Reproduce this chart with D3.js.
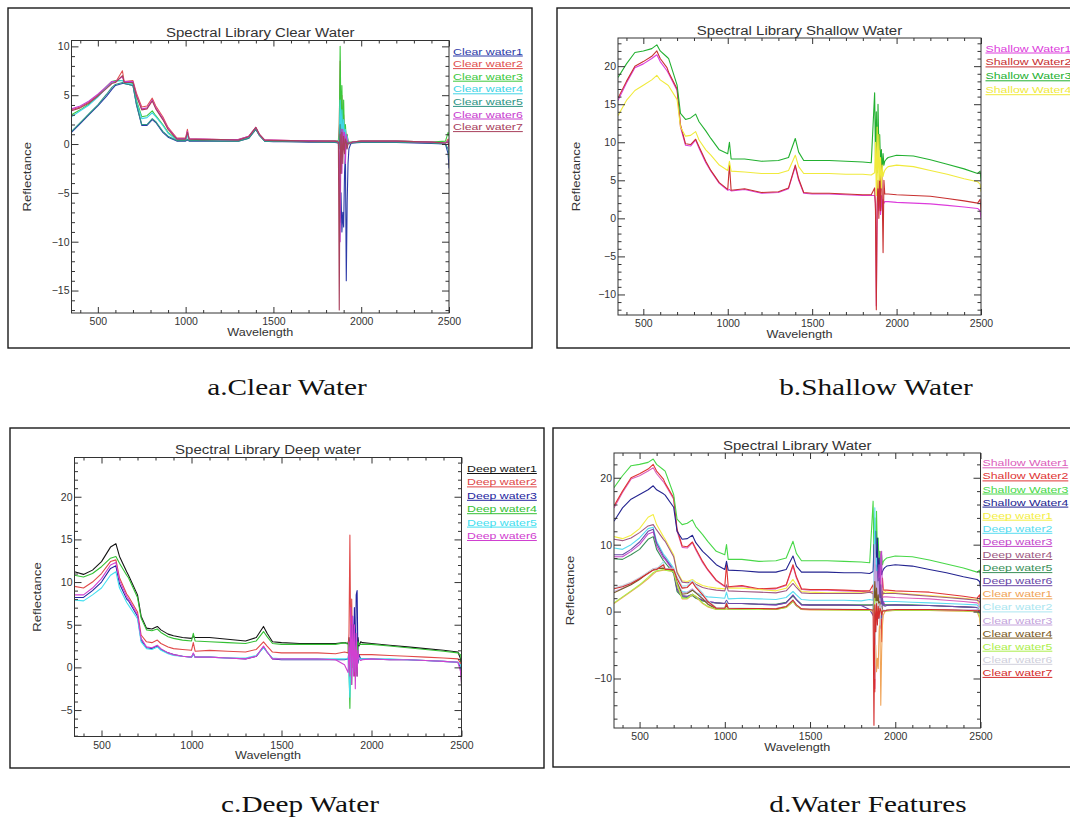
<!DOCTYPE html>
<html>
<head>
<meta charset="utf-8">
<script src="https://cdn.jsdelivr.net/npm/d3@7"></script>
<style>
  body { margin: 0; background: #fff; }
  svg { display: block; }
</style>
</head>
<body>
<svg id="fig" width="1070" height="825"></svg>
<script>
// wavelength grid (nm) shared by every spectrum
const wavelength = [350, 400, 450, 500, 550, 580, 600, 640, 650, 700,
  720, 750, 780, 810, 830, 870, 900, 950, 1000, 1010,
  1020, 1100, 1200, 1300, 1360, 1400, 1420, 1450, 1500, 1600,
  1700, 1800, 1850, 1870, 1875, 1880, 1885, 1890, 1895, 1900,
  1905, 1910, 1915, 1920, 1925, 1930, 1940, 1950, 2000, 2100,
  2200, 2300, 2400, 2480, 2495, 2500];

// clear water spectra
const clear1 = [1.2,2.1,3.0,3.9,4.9,5.6,6.0,6.2,6.2,6.0, 4.0,1.9,1.9,2.5,2.2, 1.2,0.7,0.3,0.3,0.4, 0.3,0.3,0.3,0.3,0.6, 1.5,0.9,0.3,0.25,0.25, 0.2,0.2,0.15,
  0.1,-2,-8,-5,-9,-7,-8.5,-3,-1,-14,-6,-2,-0.5,0,0.1, 0.15,0.15,0.15,0.1,0.05, 0,-1,-2.5];
const clear2 = [3.5,3.8,4.3,5.0,5.8,6.3,6.3,7.5,6.4,6.5, 5.2,3.8,3.9,4.7,3.9, 2.8,1.7,0.6,0.6,1.5, 0.5,0.5,0.45,0.45,0.8, 1.7,1.0,0.4,0.4,0.35, 0.35,0.3,0.3,
  0.3,2,8.5,1,5,0.5,3,0.5,1.5,0.2,0.8,0.3,0.1,0.1,0.2, 0.3,0.3,0.3,0.25,0.2, 0.1,0.5,0];
const clear3 = [3.0,3.5,4.1,4.9,5.9,6.4,6.5,6.5,6.4,6.2, 4.5,2.8,2.9,3.4,2.9, 2.0,1.2,0.5,0.5,1.0, 0.4,0.4,0.4,0.4,0.7, 1.6,0.9,0.35,0.35,0.3, 0.3,0.3,0.3,
  0.3,1,10,2,6,1,4.5,0.5,2,0.5,1,0.3,0.2,0.2,0.2, 0.3,0.3,0.3,0.25,0.2, 0.3,1.2,0.8];
const clear4 = [2.8,3.4,4.0,4.8,5.8,6.3,6.4,6.5,6.3,6.1, 4.3,2.6,2.7,3.2,2.8, 1.9,1.1,0.4,0.4,0.9, 0.4,0.4,0.4,0.35,0.7, 1.6,0.9,0.35,0.3,0.3, 0.3,0.25,0.25,
  0.2,0.5,4.5,1,3.5,0.5,2.5,0.5,1.5,0.3,0.8,0.2,0.1,0.1,0.2, 0.25,0.25,0.25,0.2,0.15, 0.1,0.3,-0.5];
const clear5 = [1.3,2.2,3.1,4.0,5.1,5.8,6.1,6.3,6.2,6.0, 4.1,2.0,2.0,2.6,2.3, 1.3,0.8,0.35,0.35,0.5, 0.35,0.35,0.3,0.3,0.6, 1.5,0.9,0.3,0.3,0.25, 0.25,0.2,0.2,
  0.1,-0.5,2,-1,1.5,-0.5,1,0,0.5,-0.5,0.3,0,0,0.1,0.1, 0.2,0.2,0.2,0.15,0.1, 0,-0.5,-1.5];
const clear6 = [3.6,3.9,4.4,5.1,5.9,6.4,6.4,6.9,6.4,6.4, 5.0,3.6,3.7,4.5,3.7, 2.6,1.6,0.55,0.55,1.3, 0.5,0.5,0.45,0.45,0.8, 1.7,1.0,0.4,0.4,0.35, 0.35,0.3,0.3,
  0.2,-1,-10,1.5,-3,1.5,0.5,1.2,-2,1,0.3,0.2,0.1,0.1,0.2, 0.3,0.3,0.3,0.25,0.2, 0.1,0.3,-0.5];
const clear7 = [3.4,3.7,4.2,4.9,5.7,6.2,6.3,7.0,6.3,6.3, 4.9,3.5,3.6,4.4,3.6, 2.5,1.5,0.5,0.5,1.2, 0.5,0.45,0.45,0.4,0.75, 1.7,1.0,0.4,0.35,0.35, 0.3,0.3,0.3,
  0.2,-17,1,-3,1.2,-2,0.8,-1,0.5,0.2,-0.5,0.1,0.1,0.1,0.2, 0.3,0.3,0.3,0.25,0.2, 0.1,0.2,-0.3];

// shallow water spectra
const shallow1 = [15.5,17.8,19.8,20.3,21.0,21.5,20.6,19.4,19.0,16.8, 12.0,9.6,9.5,10.3,9.2, 7.3,6.2,4.6,3.7,3.8, 3.6,3.8,3.3,3.4,3.9, 6.8,5.0,3.3,3.2,3.2, 3.1,3.0,3.0,
  3.0,2.0,-11.5,1,3.5,1,2.5,0.5,3,1,2.5,2,2.2,2.2,2.2, 2.1,2.0,1.9,1.7,1.5, 1.3,1,0];
const shallow2 = [15.8,18.0,20.0,20.6,21.3,22.0,21.0,19.8,19.2,17.0, 12.3,9.8,9.7,10.4,9.4, 7.5,6.3,4.7,3.8,7.0, 3.7,3.9,3.4,3.5,4.0, 7.0,5.2,3.4,3.3,3.3, 3.2,3.1,3.1,
  4,1,-12,2,5,0,6,1,9,3,-4.5,5,3.2,3.2,3.2, 3.1,3.0,2.9,2.6,2.3, 2.0,2.5,1.0];
const shallow3 = [18.5,20.3,21.8,22.0,22.3,22.8,22.0,21.2,21.0,17.5, 13.8,13.0,13.2,13.7,12.7, 11.5,10.5,9.0,8.5,10.0, 7.8,7.8,7.5,7.6,8.0, 10.5,8.7,7.6,7.6,7.6, 7.5,7.4,7.3,
  16.5,8,14,6,15,9,11,7,9,6,8.5,7,7.5,7.8,8, 8.3,8.2,7.7,7.1,6.5, 5.9,6.2,5.0];
const shallow4 = [13.5,15.5,16.8,17.5,18.2,18.8,18.2,17.6,17.4,15.6, 12.0,10.8,10.9,11.4,10.3, 9.0,8.3,7.0,6.3,7.5, 6.2,6.1,5.9,5.9,6.3, 8.3,6.8,5.9,5.9,5.9, 5.8,5.8,5.7,
  6,10,3,12,4,11,5,8,4,7,5.5,6,6.3,6.6,6.8, 7.0,6.8,6.3,5.8,5.2, 4.8,4.5,3.5];

// deep water spectra
const deep1 = [11.2,10.9,11.4,12.4,14.1,14.5,13.0,11.2,10.8,8.5, 6.0,4.6,4.5,4.8,4.4, 3.9,3.7,3.5,3.4,3.6, 3.5,3.5,3.3,3.1,3.5, 4.8,4.0,3.0,2.9,2.8, 2.8,2.8,2.9,
  2.8,3.5,1.5,3.0,0.5,2.5,1,3,0,2.5,-1,3.5,2.5,3.0,2.9, 2.8,2.6,2.4,2.2,2.0, 1.8,1.0,-2];
const deep2 = [9.5,9.3,10.0,11.0,12.4,12.6,10.5,8.6,8.3,6.5, 3.8,3.0,2.9,3.2,2.8, 2.4,2.2,2.1,2.0,2.9, 1.9,2.0,1.9,1.8,2.1, 3.0,2.5,1.8,1.7,1.7, 1.7,1.6,1.8,
  1.7,4,15.5,1,8,0,5,-1,3,0.5,2,1,1.5,1.5,1.5, 1.5,1.4,1.3,1.2,1.1, 1.0,0.5,-0.5];
const deep3 = [8.2,8.2,9.0,10.0,11.6,11.9,9.8,8.0,7.8,6.0, 3.2,2.3,2.2,2.5,2.1, 1.7,1.5,1.3,1.2,1.6, 1.2,1.2,1.1,1.0,1.3, 2.4,1.8,1.0,0.9,0.9, 0.9,0.9,0.9,
  1.0,2,-1,5,1,6,0,7,-1,8.5,9,0.5,1.5,1.0,1.0, 1.0,0.9,0.9,0.8,0.7, 0.6,0,-1];
const deep4 = [10.8,10.6,11.0,11.8,12.8,13.0,12.2,10.8,10.5,8.2, 5.8,4.4,4.3,4.5,4.1, 3.6,3.4,3.2,3.1,4.0, 3.1,3.0,2.9,2.8,3.1, 4.2,3.6,2.8,2.7,2.7, 2.7,2.7,2.9,
  2.7,0,-4.8,3,-2,4,0,3,1,2.5,1.5,3,2.7,2.7,2.7, 2.7,2.5,2.3,2.1,1.9, 1.7,1.5,0.5];
const deep5 = [7.9,7.8,8.5,9.3,10.8,11.2,9.3,7.6,7.3,5.7, 3.0,2.2,2.1,2.4,2.0, 1.6,1.4,1.3,1.2,1.5, 1.2,1.2,1.1,1.1,1.4, 2.3,1.8,1.1,1.0,1.0, 1.0,1.0,1.0,
  1,-1,-3.5,2,-1,3,0.5,2,-0.5,1.5,0.5,1,1,1,1, 1.0,1.0,0.9,0.8,0.7, 0.6,0.3,-0.3];
const deep6 = [8.5,8.5,9.3,10.4,12.0,12.3,10.2,8.3,8.0,6.2, 3.4,2.4,2.3,2.6,2.2, 1.7,1.5,1.3,1.2,1.7, 1.2,1.2,1.1,1.0,1.3, 2.5,1.8,1.0,1.0,1.0, 1.0,0.9,0.3,
  -0.6,3,-1,7,-2,6,-1,5,-2.5,4,-1,2,1,0.8,0.9, 1.0,0.9,0.9,0.8,0.7, 0.6,-0.5,-1.8];

const clearNames = ["Clear water1", "Clear water2", "Clear water3", "Clear water4", "Clear water5", "Clear water6", "Clear water7"];
const shallowNames = ["Shallow Water1", "Shallow Water2", "Shallow Water3", "Shallow Water4"];
const deepNames = ["Deep water1", "Deep water2", "Deep water3", "Deep water4", "Deep water5", "Deep water6"];

const clearColors = ["#2c3aa8", "#e05050", "#3cc83c", "#40d4e6", "#2e9484", "#c83cd0", "#a8405c"];
const shallowColors = ["#dc3cdc", "#c83030", "#22b030", "#f0ea3c"];
const deepColors = ["#141414", "#e04848", "#2424a0", "#34c034", "#44e0f0", "#d040d0"];
const waterColors = ["#dc60bc", "#e03434", "#48d848", "#242490",
  "#f4ee44", "#58dcf0", "#c448cc", "#a05a84", "#3a9058", "#6a48a8",
  "#f0a458", "#ace6f0", "#c4a4dc", "#7a5a24", "#acee4c", "#d0d0dc", "#d42c2c"];

const xMajorTicks = [500, 1000, 1500, 2000, 2500];
const clearYTicks = [-15, -10, -5, 0, 5, 10];
const shallowYTicks = [-10, -5, 0, 5, 10, 15, 20];
const deepYTicks = [-5, 0, 5, 10, 15, 20];
const waterYTicks = [-10, 0, 10, 20];

const xDomain = [350, 2500];

const panels = [
  { title: "Spectral Library Clear Water", caption: "a.Clear Water",
    names: clearNames, series: [clear1, clear2, clear3, clear4, clear5, clear6, clear7], colors: clearColors,
    yDomain: [-17.3, 10.6], yTicks: clearYTicks, yMinor: 1,
    frame: [8, 8, 532, 348], plot: [71.5, 40.5, 449, 313],
    legend: [453, 51.5, 12.6], yLabelX: 27, cap: [287, 395] },
  { title: "Spectral Library Shallow Water", caption: "b.Shallow Water",
    names: shallowNames, series: [shallow1, shallow2, shallow3, shallow4], colors: shallowColors,
    yDomain: [-12.7, 23.7], yTicks: shallowYTicks, yMinor: 1,
    frame: [557, 8, 1090, 348], plot: [618, 38, 981, 315],
    legend: [985.5, 48.5, 13.9], yLabelX: 575.5, cap: [876, 395] },
  { title: "Spectral Library Deep water", caption: "c.Deep Water",
    names: deepNames, series: [deep1, deep2, deep3, deep4, deep5, deep6], colors: deepColors,
    yDomain: [-8.1, 24.6], yTicks: deepYTicks, yMinor: 1,
    frame: [10, 428, 544, 768], plot: [74.5, 457.5, 461.5, 736.5],
    legend: [467, 469, 13.4], yLabelX: 37, cap: [300, 812] },
  { title: "Spectral Library Water", caption: "d.Water Features",
    names: shallowNames.concat(deepNames, clearNames),
    series: [shallow1, shallow2, shallow3, shallow4, deep1, deep2, deep3, deep4, deep5, deep6,
             clear1, clear2, clear3, clear4, clear5, clear6, clear7],
    colors: waterColors,
    yDomain: [-17.4, 23.7], yTicks: waterYTicks, yMinor: 2,
    frame: [553, 428, 1090, 767], plot: [614, 453, 980.5, 728],
    legend: [982.5, 463.3, 13.1], yLabelX: 570, cap: [868, 812] }
];

const FONT = "'Liberation Sans', Arial, sans-serif";
const INK = "#333";
const svg = d3.select("#fig");

// text squeezed/stretched horizontally like the scanned figure
function stretchText(parent, x, y, str, size, sx, anchor, fill, rot) {
  const t = parent.append("text")
    .attr("transform", `translate(${x},${y})${rot ? " rotate(" + rot + ")" : ""} scale(${sx},1)`)
    .attr("text-anchor", anchor)
    .attr("font-family", FONT)
    .attr("font-size", size)
    .attr("fill", fill)
    .text(str);
  return t;
}

panels.forEach((p, pi) => {
  const [fx0, fy0, fx1, fy1] = p.frame;
  const [L, T, R, B] = p.plot;

  svg.append("rect")
    .attr("x", fx0).attr("y", fy0)
    .attr("width", fx1 - fx0).attr("height", fy1 - fy0)
    .attr("fill", "none").attr("stroke", "#1a1a1a").attr("stroke-width", 1.4);

  const x = d3.scaleLinear().domain(xDomain).range([L, R]);
  const y = d3.scaleLinear().domain(p.yDomain).range([B, T]);

  const g = svg.append("g");

  const cid = "clip" + pi;
  svg.append("clipPath").attr("id", cid)
    .append("rect").attr("x", L).attr("y", T).attr("width", R - L).attr("height", B - T);

  const line = d3.line()
    .x((d, i) => x(wavelength[i]))
    .y(d => y(d));

  g.append("g").attr("clip-path", `url(#${cid})`)
    .selectAll("path")
    .data(p.series)
    .join("path")
    .attr("d", line)
    .attr("fill", "none")
    .attr("stroke", (d, i) => p.colors[i])
    .attr("stroke-width", 1.1)
    .attr("stroke-linejoin", "round");

  // minor tick values
  const xMinor = d3.range(400, 2501, 100).filter(v => !xMajorTicks.includes(v));
  const yMinor = d3.range(Math.ceil(p.yDomain[0] / p.yMinor) * p.yMinor, p.yDomain[1], p.yMinor)
    .filter(v => !p.yTicks.includes(v));

  const styleAxis = sel => {
    sel.attr("font-family", FONT).attr("font-size", 10.5).attr("color", INK);
    sel.select(".domain").remove();
  };

  // bottom (labelled)
  g.append("g").attr("transform", `translate(0,${B})`)
    .call(d3.axisBottom(x).tickValues(xMajorTicks).tickSizeInner(-6).tickSizeOuter(0).tickFormat(d3.format("d")))
    .call(styleAxis)
    .call(a => a.selectAll("text").attr("y", 12).attr("dy", null));
  g.append("g").attr("transform", `translate(0,${B})`)
    .call(d3.axisBottom(x).tickValues(xMinor).tickSizeInner(-3).tickSizeOuter(0).tickFormat(""))
    .call(styleAxis);
  // top
  g.append("g").attr("transform", `translate(0,${T})`)
    .call(d3.axisTop(x).tickValues(xMajorTicks).tickSizeInner(-6).tickSizeOuter(0).tickFormat(""))
    .call(styleAxis);
  g.append("g").attr("transform", `translate(0,${T})`)
    .call(d3.axisTop(x).tickValues(xMinor).tickSizeInner(-3).tickSizeOuter(0).tickFormat(""))
    .call(styleAxis);
  // left (labelled)
  g.append("g").attr("transform", `translate(${L},0)`)
    .call(d3.axisLeft(y).tickValues(p.yTicks).tickSizeInner(-7).tickSizeOuter(0).tickPadding(2)
      .tickFormat(v => v < 0 ? "\u2212" + Math.abs(v) : String(v)))
    .call(styleAxis);
  g.append("g").attr("transform", `translate(${L},0)`)
    .call(d3.axisLeft(y).tickValues(yMinor).tickSizeInner(-3.5).tickSizeOuter(0).tickFormat(""))
    .call(styleAxis);
  // right
  g.append("g").attr("transform", `translate(${R},0)`)
    .call(d3.axisRight(y).tickValues(p.yTicks).tickSizeInner(-7).tickSizeOuter(0).tickFormat(""))
    .call(styleAxis);
  g.append("g").attr("transform", `translate(${R},0)`)
    .call(d3.axisRight(y).tickValues(yMinor).tickSizeInner(-3.5).tickSizeOuter(0).tickFormat(""))
    .call(styleAxis);

  // plot box
  g.append("rect")
    .attr("x", L).attr("y", T).attr("width", R - L).attr("height", B - T)
    .attr("fill", "none").attr("stroke", INK).attr("stroke-width", 1);

  // titles
  stretchText(g, (L + R) / 2, T - 3.5, p.title, 12, 1.25, "middle", INK);
  stretchText(g, (L + R) / 2, B + 22.5, "Wavelength", 10.5, 1.2, "middle", INK);
  stretchText(g, p.yLabelX + 4, (T + B) / 2, "Reflectance", 11, 1.2, "middle", INK, -90);

  // legend: coloured label with its line underneath
  const [lx, ly, ldy] = p.legend;
  const sx = 1.37;
  p.names.forEach((name, i) => {
    const base = ly + i * ldy + 3;
    const t = stretchText(g, lx, base, name, 9, sx, "start", p.colors[i]);
    const w = t.node().getComputedTextLength() * sx;
    g.append("line")
      .attr("x1", lx).attr("x2", lx + w)
      .attr("y1", base + 1.5).attr("y2", base + 1.5)
      .attr("stroke", p.colors[i]).attr("stroke-width", 1);
  });

  // caption below the panel
  svg.append("text")
    .attr("transform", `translate(${p.cap[0]},${p.cap[1]}) scale(1.3,1)`)
    .attr("text-anchor", "middle")
    .attr("font-family", "'Liberation Serif', 'Times New Roman', serif")
    .attr("font-size", 22.5)
    .attr("fill", "#111")
    .text(p.caption);
});
</script>
</body>
</html>
